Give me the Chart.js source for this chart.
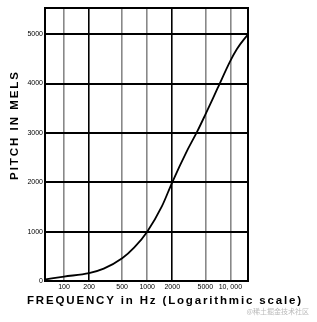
<!DOCTYPE html>
<html>
<head>
<meta charset="utf-8">
<script src="https://cdn.jsdelivr.net/npm/chart.js@4.4.1/dist/chart.umd.min.js"></script>
<style>
  html, body { margin: 0; padding: 0; background: #fff; }
  #wrap { position: relative; width: 317px; height: 322px; }
</style>
</head>
<body>
<div id="wrap"><canvas id="melChart" width="317" height="322"></canvas></div>
<script>
// frequency (Hz) and pitch (mels)
const frequencies = [60, 100, 200, 300, 500, 700, 1000, 1500, 2000, 3000, 4000, 5000, 7000, 10000, 12000, 16300];
const pitchMels = [35, 90, 160, 250, 460, 680, 1000, 1510, 2000, 2630, 3030, 3370, 3900, 4460, 4700, 5000];

const freqTicks = [100, 200, 500, 1000, 2000, 5000, 10000];
const freqTickLabels = ["100", "200", "500", "1000", "2000", "5000", "10, 000"];
const melTicks = [0, 1000, 2000, 3000, 4000, 5000];

const xTitle = "FREQUENCY in Hz (Logarithmic scale)";
const yTitle = "PITCH IN MELS";
const watermark = "@稀土掘金技术社区";

// draws the frame round the plot and the spaced-out axis titles
const framePlugin = {
  id: "frame",
  afterDraw(chart) {
    const ctx = chart.ctx;
    const a = chart.chartArea;
    ctx.save();
    ctx.strokeStyle = "#000";
    ctx.lineWidth = 2;
    ctx.strokeRect(a.left, a.top, a.right - a.left, a.bottom - a.top);

    function spaced(text, cx, cy, width, rotate) {
      ctx.save();
      ctx.translate(cx, cy);
      if (rotate) ctx.rotate(-Math.PI / 2);
      ctx.font = "bold 11.5px 'Liberation Sans', Arial, sans-serif";
      ctx.letterSpacing = "0px";
      const natural = ctx.measureText(text).width;
      const gap = (width - natural) / (text.length - 1);
      ctx.letterSpacing = gap + "px";
      ctx.fillStyle = "#000";
      ctx.textBaseline = "middle";
      ctx.textAlign = "left";
      ctx.fillText(text, -width / 2, 0);
      ctx.restore();
    }
    spaced(xTitle, 164, 301, 274, false);
    spaced(yTitle, 15, 126, 108, true);

    ctx.font = "7px 'Noto Sans CJK SC', sans-serif";
    ctx.fillStyle = "#bbb";
    ctx.textAlign = "right";
    ctx.textBaseline = "middle";
    ctx.letterSpacing = "0px";
    ctx.fillText(watermark, 309, 311);
    ctx.restore();
  },
};

const ctx = document.getElementById("melChart").getContext("2d");
new Chart(ctx, {
  type: "line",
  data: {
    datasets: [
      {
        data: frequencies.map((f, i) => ({ x: f, y: pitchMels[i] })),
        borderColor: "#000",
        borderWidth: 1.8,
        pointRadius: 0,
        fill: false,
        cubicInterpolationMode: "monotone",
      },
    ],
  },
  options: {
    responsive: false,
    animation: false,
    layout: { padding: { top: 8, right: 69, left: 0, bottom: 0 } },
    plugins: {
      legend: { display: false },
      tooltip: { enabled: false },
    },
    scales: {
      x: {
        type: "logarithmic",
        min: 59,
        max: 16300,
        afterBuildTicks: (scale) => {
          scale.ticks = freqTicks.map((v) => ({ value: v }));
        },
        afterFit: (scale) => {
          scale.height = 41;
        },
        border: { display: false },
        grid: {
          drawTicks: false,
          lineWidth: 1.6,
          color: (c) => (c.tick && (c.tick.value === 200 || c.tick.value === 2000) ? "#000" : "#888"),
        },
        ticks: {
          padding: 2,
          autoSkip: false,
          maxRotation: 0,
          color: "#000",
          font: { size: 7, family: "'Liberation Sans', Arial, sans-serif" },
          callback: (v) => {
            const i = freqTicks.indexOf(v);
            return i >= 0 ? freqTickLabels[i] : "";
          },
        },
      },
      y: {
        min: 0,
        max: 5530,
        afterBuildTicks: (scale) => {
          scale.ticks = melTicks.map((v) => ({ value: v }));
        },
        afterFit: (scale) => {
          scale.width = 45;
        },
        border: { display: false },
        grid: { drawTicks: false, lineWidth: 2, color: "#000" },
        ticks: {
          padding: 2,
          color: "#000",
          font: { size: 7, family: "'Liberation Sans', Arial, sans-serif" },
          callback: (v) => String(v),
        },
      },
    },
  },
  plugins: [framePlugin],
});
</script>
</body>
</html>
